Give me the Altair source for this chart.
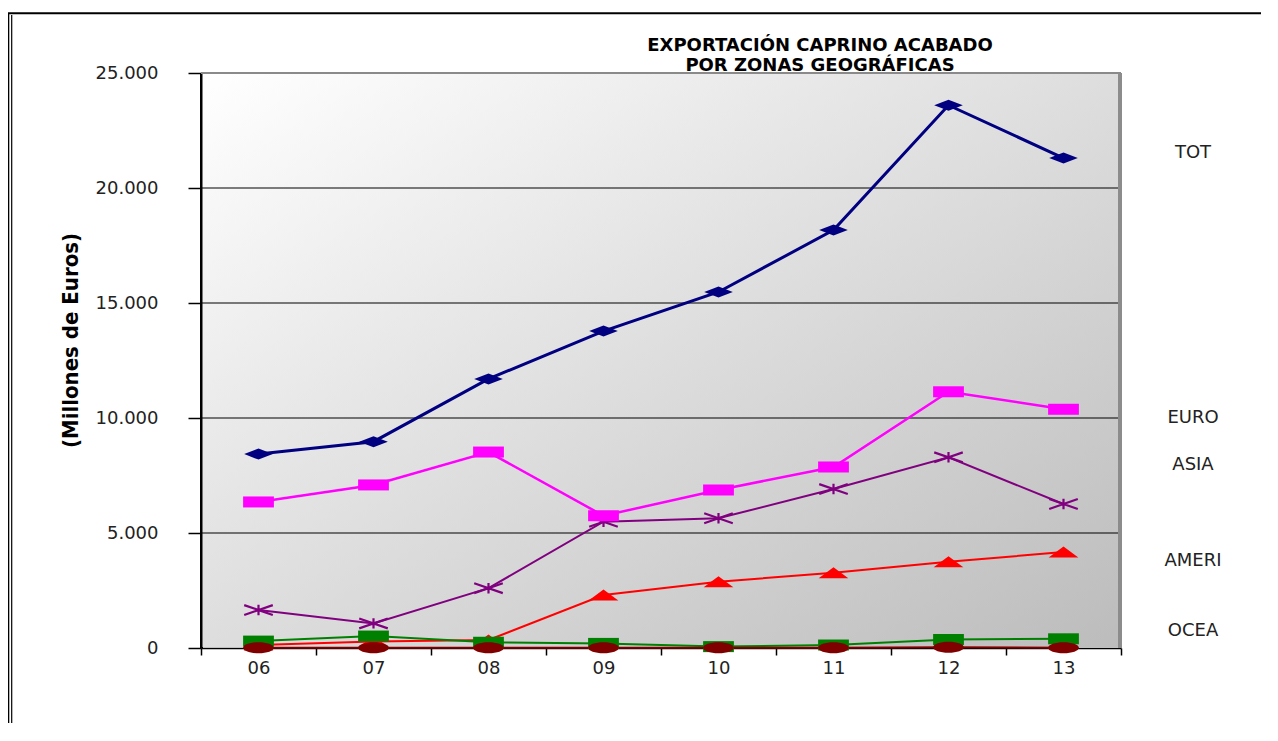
import altair as alt
import pandas as pd

# ---- data ----
years = ["06", "07", "08", "09", "10", "11", "12", "13"]
tot = [8430, 8970, 11700, 13780, 15480, 18170, 23600, 21300]
euro = [6350, 7090, 8520, 5750, 6870, 7870, 11140, 10380]
asia = [1650, 1070, 2600, 5490, 5640, 6910, 8290, 6260]
ameri = [130, 280, 350, 2300, 2880, 3270, 3750, 4170]
ocea = [300, 520, 250, 200, 60, 130, 370, 400]
afri = [10, 10, 10, 10, 10, 10, 30, 10]

series_names = ["TOT", "EURO", "ASIA", "AMERI", "OCEA", "AFRI"]
series_values = [tot, euro, asia, ameri, ocea, afri]
series_colors = ["#000080", "#FF00FF", "#800080", "#FF0000", "#008000", "#800000"]
series_widths = [3, 2.5, 2, 2, 2, 2]

label_names = ["TOT", "EURO", "ASIA", "AMERI", "OCEA"]
label_anchor = [21520, 10000, 7960, 3780, 740]

title_lines = ["EXPORTACIÓN CAPRINO ACABADO", "POR ZONAS GEOGRÁFICAS"]

y_ticks = [0, 5000, 10000, 15000, 20000, 25000]
grid_values = [5000, 10000, 15000, 20000]

# wide marker shapes (the reference is horizontally stretched)
shapes = {
    "TOT": "M-2.6,0L0,-1L2.6,0L0,1Z",
    "EURO": "M-2.8,-1H2.8V1H-2.8Z",
    "AMERI": "M0,-1L2.7,1H-2.7Z",
    "OCEA": "M-2.8,-1H2.8V1H-2.8Z",
    "AFRI": "M-2.8,0A2.8,1,0,1,1,2.8,0A2.8,1,0,1,1,-2.8,0Z",
}
asterisk = "M-2.6,-0.9L2.6,0.9M-2.6,0.9L2.6,-0.9M0,-0.95L0,0.95"

rows = []
for name, vals in zip(series_names, series_values):
    for yr, v in zip(years, vals):
        rows.append({"serie": name, "anio": yr, "valor": v})
df = pd.DataFrame(rows)

W, H = 920, 575

x_enc = alt.X(
    "anio:O",
    sort=years,
    scale=alt.Scale(type="band", paddingInner=0, paddingOuter=0),
    axis=alt.Axis(
        title=None,
        labelAngle=0,
        tickBand="extent",
        tickSize=7,
        tickWidth=1.5,
        tickColor="#000",
        domainColor="#000",
        domainWidth=1.5,
        labelPadding=4,
        labelFont="DejaVu Sans",
        labelFontSize=18,
        labelColor="#222",
        grid=False,
    ),
)
y_enc = alt.Y(
    "valor:Q",
    scale=alt.Scale(domain=[0, 25000], nice=False),
    axis=alt.Axis(
        values=y_ticks,
        labelExpr="replace(format(datum.value, ','), ',', '.')",
        grid=False,
        tickSize=13,
        tickWidth=1.5,
        tickColor="#000",
        domainColor="#000",
        domainWidth=3,
        labelPadding=30,
        labelFont="DejaVu Sans",
        labelFontSize=18,
        labelColor="#222",
        title="(Millones de Euros)",
        titleFont="Liberation Sans Narrow, DejaVu Sans Condensed",
        titleFontSize=22,
        titleFontWeight="bold",
        titleColor="#000",
        titleX=-131,
        titleY=267,
        titleAlign="center",
        titleBaseline="middle",
        titleAngle=270,
    ),
)

base = alt.Chart(df)
one = alt.Chart(pd.DataFrame({"k": [0]}))  # single row for decorations

gradient = alt.Gradient(
    gradient="linear",
    stops=[
        alt.GradientStop(color="#ffffff", offset=0),
        alt.GradientStop(color="#bcbcbc", offset=1),
    ],
    x1=0, y1=0, x2=1, y2=1,
)
bg = one.mark_rect(fill=gradient, stroke=None).encode(
    x=alt.value(1.5), x2=alt.value(W), y=alt.value(0), y2=alt.value(H - 1)
)

grid_df = pd.DataFrame({"g": grid_values})
grid = alt.Chart(grid_df).mark_rule(color="#000", strokeWidth=1.2).encode(y="g:Q")
top_df = pd.DataFrame({"g": [25000]})
top = alt.Chart(top_df).mark_rule(color="#8a8a8a", strokeWidth=2).encode(y="g:Q")
right_edge = one.mark_rule(color="#8c8c8c", strokeWidth=4).encode(
    x=alt.value(W - 1), y=alt.value(0), y2=alt.value(H)
)

layers = [bg, grid, top, right_edge]

for name, color, sw in zip(series_names, series_colors, series_widths):
    layers.append(
        base.transform_filter(alt.datum.serie == name)
        .mark_line(color=color, strokeWidth=sw)
        .encode(x=x_enc, y=y_enc)
    )

point_order = ["TOT", "ASIA", "EURO", "AMERI", "OCEA", "AFRI"]
for name in point_order:
    color = series_colors[series_names.index(name)]
    if name == "ASIA":
        mk = base.transform_filter(alt.datum.serie == name).mark_point(
            shape=asterisk, filled=False, stroke=color, strokeWidth=2.2,
            size=121, opacity=1,
        )
    else:
        mk = base.transform_filter(alt.datum.serie == name).mark_point(
            shape=shapes[name], filled=True, fill=color, stroke=None,
            size=121, opacity=1,
        )
    layers.append(mk.encode(x=x_enc, y=y_enc))

lab_df = pd.DataFrame({"name": label_names, "anchor": label_anchor})
labels = alt.Chart(lab_df).mark_text(
    align="center", baseline="middle", font="DejaVu Sans", fontSize=18, color="#222"
).encode(x=alt.value(992), y=alt.Y("anchor:Q"), text="name:N")
layers.append(labels)

# chart title (two centred lines, placed right of the plot centre as in the original)
title_df = pd.DataFrame({"t": title_lines, "line": [0, 1]})
for i, yy in enumerate([-27, -7]):
    layers.append(
        alt.Chart(title_df)
        .transform_filter(alt.datum.line == i)
        .mark_text(
            align="center", baseline="middle", font="DejaVu Sans", fontSize=18,
            fontWeight="bold", color="#000",
        )
        .encode(x=alt.value(619), y=alt.value(yy), text="t:N")
    )

# outer frame of the original picture
frame_left1 = one.mark_rule(color="#000", strokeWidth=2).encode(
    x=alt.value(-192.7), y=alt.value(-60), y2=alt.value(700)
)
frame_left2 = one.mark_rule(color="#000", strokeWidth=1.2).encode(
    x=alt.value(-189.3), y=alt.value(-58), y2=alt.value(700)
)
frame_top = one.mark_rule(color="#000", strokeWidth=2).encode(
    x=alt.value(-193.5), x2=alt.value(1200), y=alt.value(-59.8)
)
layers += [frame_left1, frame_left2, frame_top]

chart = (
    alt.layer(*layers)
    .properties(
        width=W,
        height=H,
        autosize=alt.AutoSizeParams(type="none"),
        padding={"left": 193, "top": 65, "right": 140, "bottom": 75},
    )
    .configure_view(stroke=None)
    .configure(background="white")
)

chart.save("out.html", embed_options={"renderer": "svg", "actions": False})
